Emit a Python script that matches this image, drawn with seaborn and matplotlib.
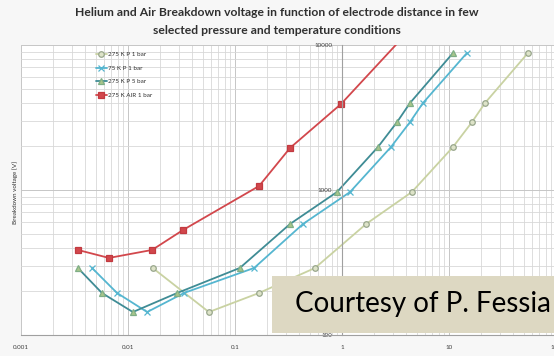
import numpy as np
import pandas as pd
import matplotlib
matplotlib.use("Agg")
import matplotlib.pyplot as plt
import matplotlib.ticker as mticker
from matplotlib.patches import Rectangle
import seaborn as sns

# values (electrode distance, breakdown voltage [V])
he275_1bar_x = [0.017, 0.057, 0.168, 0.56, 1.68, 4.5, 10.9, 16.4, 21.7, 54.7]
he275_1bar_y = [290, 144, 195, 290, 583, 969, 1980, 2940, 3980, 8810]

he75_1bar_x = [0.00461, 0.00789, 0.0151, 0.0334, 0.151, 0.432, 1.19, 2.87, 4.32, 5.71, 14.7]
he75_1bar_y = [290, 195, 144, 195, 290, 583, 969, 1980, 2940, 3980, 8810]

he275_5bar_x = [0.0034, 0.0057, 0.0111, 0.0289, 0.111, 0.327, 0.898, 2.17, 3.27, 4.32, 10.9]
he275_5bar_y = [290, 195, 144, 195, 290, 583, 969, 1980, 2940, 3980, 8810]

air275_1bar_x = [0.0034, 0.00664, 0.0168, 0.0327, 0.168, 0.327, 0.98, 4.0]
air275_1bar_y = [386, 340, 386, 530, 1066, 1950, 3920, 12000]

series_names = ["275 K P 1 bar", "75 K P 1 bar", "275 K P 5 bar", "275 K AIR 1 bar"]
x_ticks = [0.001, 0.01, 0.1, 1, 10, 100]
x_tick_labels = ["0.001", "0.01", "0.1", "1", "10", "100"]
y_ticks = [100, 1000, 10000]
y_tick_labels = ["100", "1000", "10000"]

sns.set_style("white")
plt.rcParams['font.family'] = ['Lato', 'DejaVu Sans']

fig = plt.figure(figsize=(5.54, 3.56), dpi=100, facecolor="#f7f7f7")
ax = fig.add_axes([21 / 554, 21 / 356, 535 / 554, 290 / 356])
ax.set_facecolor("white")

styles = [
    (he275_1bar_x, he275_1bar_y, "#c9d2a2", "o", "#dde3c8", "#98a68c", 4),
    (he75_1bar_x, he75_1bar_y, "#55b6d0", "x", "#55b6d0", "#55b6d0", 4),
    (he275_5bar_x, he275_5bar_y, "#3f8c95", "^", "#a8c58a", "#7fae86", 4),
    (air275_1bar_x, air275_1bar_y, "#d2474c", "s", "#d2474c", "#c23a40", 5),
]
for name, (xs, ys, col, mk, mfc, mec, ms) in zip(series_names, styles):
    sns.lineplot(x=xs, y=ys, ax=ax, color=col, marker=mk, markersize=ms,
                 markerfacecolor=mfc, markeredgecolor=mec, markeredgewidth=0.9,
                 linewidth=1.3, sort=False, estimator=None, label=name)

ax.set_xscale("log")
ax.set_yscale("log")
ax.set_xlim(0.001, 100)
ax.set_ylim(100, 10000)

ax.grid(True, which="major", color="#c6c6c6", linewidth=0.7)
ax.grid(True, which="minor", color="#d8d8d8", linewidth=0.6)
ax.set_axisbelow(True)

for s in ["top", "right"]:
    ax.spines[s].set_visible(False)
ax.spines["left"].set_position(("data", 1))
ax.spines["left"].set_color("#a0a0a0")
ax.spines["bottom"].set_color("#a0a0a0")
ax.spines["left"].set_linewidth(0.8)
ax.spines["bottom"].set_linewidth(0.8)

ax.xaxis.set_major_locator(mticker.FixedLocator(x_ticks))
ax.xaxis.set_major_formatter(mticker.FixedFormatter(x_tick_labels))
ax.yaxis.set_major_locator(mticker.FixedLocator(y_ticks))
ax.yaxis.set_major_formatter(mticker.FixedFormatter(y_tick_labels))
ax.xaxis.set_minor_locator(mticker.LogLocator(base=10, subs=np.arange(2, 10)))
ax.yaxis.set_minor_locator(mticker.LogLocator(base=10, subs=np.arange(2, 10)))
ax.xaxis.set_minor_formatter(mticker.NullFormatter())
ax.yaxis.set_minor_formatter(mticker.NullFormatter())
ax.tick_params(axis="both", which="major", labelsize=4.5, length=3, color="#a0a0a0",
               direction="out", labelcolor="#404040", pad=4)
ax.tick_params(axis="both", which="minor", length=2, color="#b8b8b8", direction="out")

ax.set_xlabel("")
ax.set_ylabel("")
fig.text(15 / 554, 1 - 192 / 356, "Breakdown voltage [V]", rotation=90,
         ha="center", va="center", fontsize=4.5, color="#303030")

fig.text(0.5, 1 - 12 / 356, "Helium and Air Breakdown voltage in function of electrode distance in few",
         ha="center", va="center", fontsize=8.7, fontweight="bold", color="#303030")
fig.text(0.5, 1 - 31 / 356, "selected pressure and temperature conditions",
         ha="center", va="center", fontsize=8.7, fontweight="bold", color="#303030")

leg = ax.legend(loc="upper left", bbox_to_anchor=(0.135, 0.985), frameon=False,
                fontsize=4.5, labelspacing=1.3, handlelength=1.8, handletextpad=0.2,
                borderaxespad=0)
for t in leg.get_texts():
    t.set_color("#303030")

# courtesy box
fig.patches.append(Rectangle((272 / 554, 1 - 333 / 356), 290 / 554, 57 / 356,
                             transform=fig.transFigure, facecolor="#ddd8c2",
                             edgecolor="none", zorder=5))
fig.text(423 / 554, 1 - 304 / 356, "Courtesy of P. Fessia", ha="center", va="center",
         fontsize=20, color="black", zorder=6)

fig.savefig("out.png", dpi=100, facecolor=fig.get_facecolor())
